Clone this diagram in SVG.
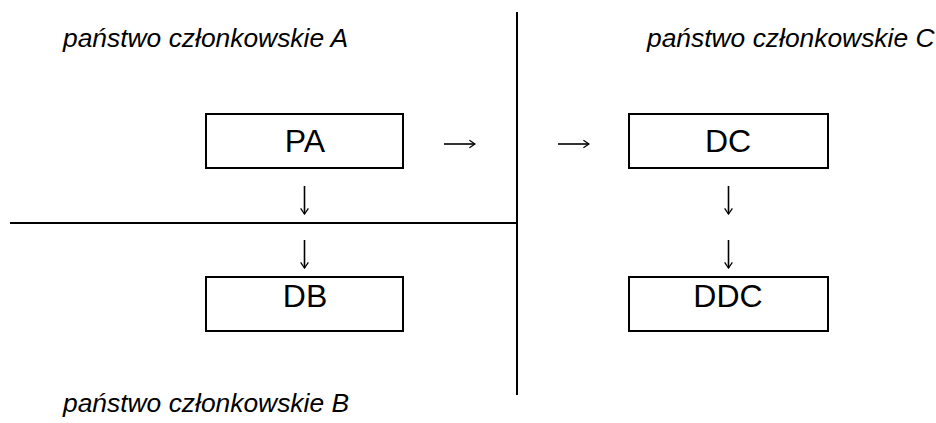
<svg xmlns="http://www.w3.org/2000/svg" width="936" height="423" viewBox="0 0 936 423">
<defs>
<marker id="ah" viewBox="0 0 10 12" refX="9" refY="6" markerWidth="7" markerHeight="12" markerUnits="userSpaceOnUse" orient="auto">
<path d="M1,0.5 L9,6 L1,11.5" fill="none" stroke="#000" stroke-width="1.8"/>
</marker>
</defs>
<style>
.box{fill:#fff;stroke:#000;stroke-width:2}
.lbl{font-family:"Liberation Sans",Arial,sans-serif;font-size:32px;fill:#000;text-anchor:middle}
.reg{font-family:"Liberation Sans",Arial,sans-serif;font-size:26.4px;font-style:italic;fill:#000}
.arr{stroke:#000;stroke-width:1.6;fill:none;marker-end:url(#ah)}
.div{stroke:#000;stroke-width:2;fill:none}
</style>
<rect width="936" height="423" fill="#fff"/>
<g id="dividers">
<line class="div" x1="517" y1="12" x2="517" y2="395"/>
<line class="div" x1="10" y1="223" x2="517" y2="223"/>
</g>
<g id="regions">
<text class="reg" x="63" y="47">państwo członkowskie A</text>
<text class="reg" x="647" y="47">państwo członkowskie C</text>
<text class="reg" x="63" y="412">państwo członkowskie B</text>
</g>
<g id="PA"><rect class="box" x="206" y="114" width="197" height="54"/><text class="lbl" x="305" y="152">PA</text></g>
<g id="DC"><rect class="box" x="629" y="114" width="199" height="54"/><text class="lbl" x="728" y="152">DC</text></g>
<g id="DB"><rect class="box" x="206" y="277" width="197" height="54"/><text class="lbl" x="305" y="307">DB</text></g>
<g id="DDC"><rect class="box" x="629" y="277" width="199" height="54"/><text class="lbl" x="728" y="307">DDC</text></g>
<g id="connectors">
<line class="arr" x1="444" y1="144" x2="475" y2="144"/>
<line class="arr" x1="558" y1="144" x2="589" y2="144"/>
<line class="arr" x1="304.5" y1="186" x2="304.5" y2="214"/>
<line class="arr" x1="304.5" y1="240" x2="304.5" y2="268"/>
<line class="arr" x1="728.5" y1="186" x2="728.5" y2="214"/>
<line class="arr" x1="728.5" y1="240" x2="728.5" y2="268"/>
</g>
</svg>
